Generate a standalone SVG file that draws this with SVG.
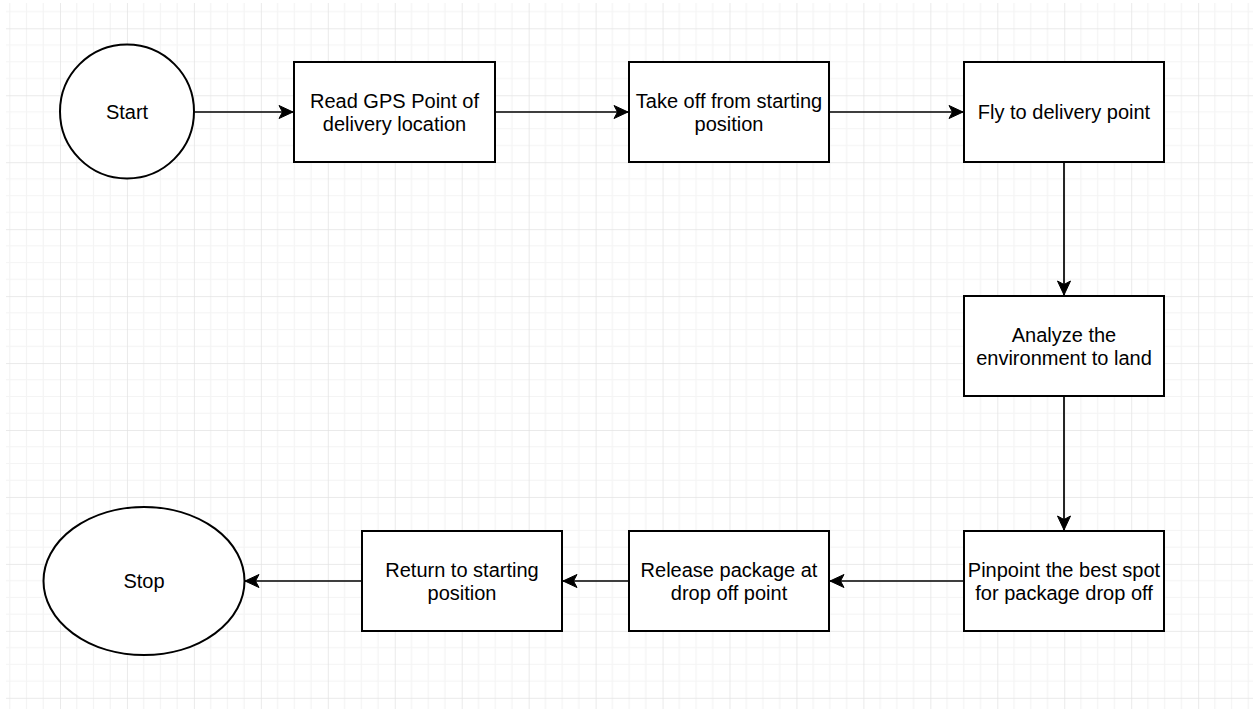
<svg xmlns="http://www.w3.org/2000/svg" width="1253" height="709" viewBox="0 0 1253 709">
<style>
.node rect, .node circle, .node ellipse { fill:#ffffff; stroke:#000000; stroke-width:2; }
.node text { font-family:"Liberation Sans", Arial, Helvetica, sans-serif; font-size:20px; fill:#000000; text-anchor:middle; }
.edge { fill:none; stroke:#000000; stroke-width:1.7; marker-end:url(#arrow); }
</style>
<defs>
<pattern id="grid" patternUnits="userSpaceOnUse" x="60" y="28.3" width="66.95" height="66.95">
<path d="M16.74 0V66.95M33.48 0V66.95M50.21 0V66.95M0 16.74H66.95M0 33.48H66.95M0 50.21H66.95" stroke="#f4f4f4" stroke-width="1.2" fill="none"/>
<path d="M0 0V66.95M0 0H66.95" stroke="#e3e3e3" stroke-width="1.5" fill="none"/>
</pattern>
<marker id="arrow" markerUnits="userSpaceOnUse" markerWidth="16" markerHeight="15" viewBox="0 0 16 15" refX="15" refY="7.5" orient="auto">
<path d="M1 1 L15 7.5 L1 14 L4.5 7.5 Z" fill="#000000" stroke="#000000" stroke-width="1"/>
</marker>
</defs>
<rect x="0" y="0" width="1253" height="709" fill="#ffffff"/>
<rect x="6" y="3" width="1247" height="706" fill="url(#grid)"/>
<g id="connectors">
<path class="edge" d="M194 112H293"/>
<path class="edge" d="M495 112H628"/>
<path class="edge" d="M829 112H963"/>
<path class="edge" d="M1064 162V295"/>
<path class="edge" d="M1064 396V530"/>
<path class="edge" d="M964 581H830"/>
<path class="edge" d="M629 581H563"/>
<path class="edge" d="M362 581H245"/>
</g>
<g id="start" class="node">
<circle cx="127" cy="111.5" r="67"/>
<text x="127" y="119">Start</text>
</g>
<g id="read-gps" class="node">
<rect x="294" y="62" width="201" height="100"/>
<text x="394.5" y="107.5">Read GPS Point of</text>
<text x="394.5" y="130.5">delivery location</text>
</g>
<g id="take-off" class="node">
<rect x="629" y="62" width="200" height="100"/>
<text x="729" y="107.5">Take off from starting</text>
<text x="729" y="130.5">position</text>
</g>
<g id="fly" class="node">
<rect x="964" y="62" width="200" height="100"/>
<text x="1064" y="119">Fly to delivery point</text>
</g>
<g id="analyze" class="node">
<rect x="964" y="296" width="200" height="100"/>
<text x="1064" y="341.5">Analyze the</text>
<text x="1064" y="364.5">environment to land</text>
</g>
<g id="pinpoint" class="node">
<rect x="964" y="531" width="200" height="100"/>
<text x="1064" y="576.5">Pinpoint the best spot</text>
<text x="1064" y="599.5">for package drop off</text>
</g>
<g id="release" class="node">
<rect x="629" y="531" width="200" height="100"/>
<text x="729" y="576.5">Release package at</text>
<text x="729" y="599.5">drop off point</text>
</g>
<g id="return" class="node">
<rect x="362" y="531" width="200" height="100"/>
<text x="462" y="576.5">Return to starting</text>
<text x="462" y="599.5">position</text>
</g>
<g id="stop" class="node">
<ellipse cx="144" cy="581" rx="100.5" ry="74"/>
<text x="144" y="588">Stop</text>
</g>
</svg>
